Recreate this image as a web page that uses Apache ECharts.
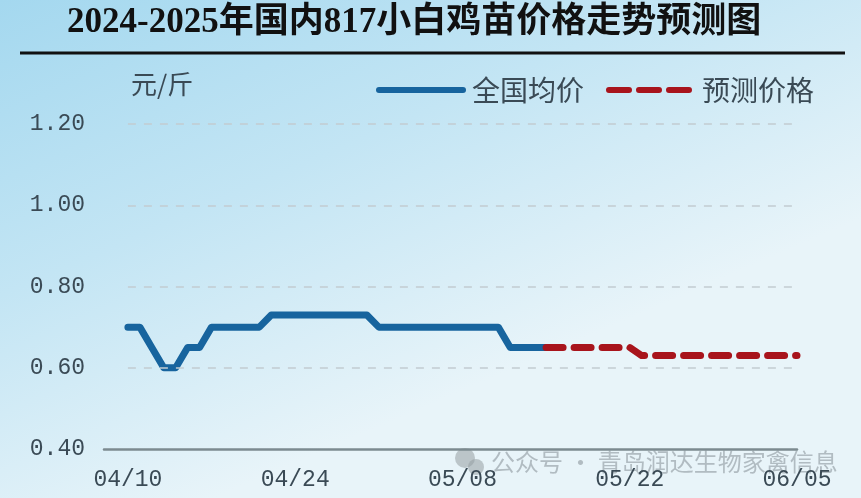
<!DOCTYPE html>
<html>
<head>
<meta charset="utf-8">
<script src="https://cdn.jsdelivr.net/npm/echarts@6/dist/echarts.min.js"></script>
<style>
html, body { margin: 0; padding: 0; }
#main { width: 861px; height: 498px; }
</style>
</head>
<body>
<div id="main"></div>
<script>
var dates = [
    '04/08', '04/09', '04/10', '04/11', '04/12', '04/13', '04/14', '04/15', '04/16', '04/17',
    '04/18', '04/19', '04/20', '04/21', '04/22', '04/23', '04/24', '04/25', '04/26', '04/27',
    '04/28', '04/29', '04/30', '05/01', '05/02', '05/03', '05/04', '05/05', '05/06', '05/07',
    '05/08', '05/09', '05/10', '05/11', '05/12', '05/13', '05/14', '05/15', '05/16', '05/17',
    '05/18', '05/19', '05/20', '05/21', '05/22', '05/23', '05/24', '05/25', '05/26', '05/27',
    '05/28', '05/29', '05/30', '05/31', '06/01', '06/02', '06/03', '06/04', '06/05'
];
// 全国均价 04/10 - 05/15
var nationalAvg = [
    0.70, 0.70, 0.65, 0.60, 0.60, 0.65, 0.65, 0.70, 0.70, 0.70,
    0.70, 0.70, 0.73, 0.73, 0.73, 0.73, 0.73, 0.73, 0.73, 0.73,
    0.73, 0.70, 0.70, 0.70, 0.70, 0.70, 0.70, 0.70, 0.70, 0.70,
    0.70, 0.70, 0.65, 0.65, 0.65, 0.65
];
var nationalStart = '04/10';
// 预测价格 05/15 - 06/05
var forecast = [
    0.65, 0.65, 0.65, 0.65, 0.65, 0.65, 0.65, 0.65, 0.63, 0.63,
    0.63, 0.63, 0.63, 0.63, 0.63, 0.63, 0.63, 0.63, 0.63, 0.63,
    0.63, 0.63
];
var forecastStart = '05/15';
var xTickLabels = ['04/10', '04/24', '05/08', '05/22', '06/05'];
var yTicks = [0.40, 0.60, 0.80, 1.00, 1.20];

window.onload = function () {
    var myChart = echarts.init(document.getElementById('main'));
    var textColor = '#3a4a55';
    var blue = '#17649e';
    var red = '#a8141c';
    var monoFont = '"Liberation Mono", "DejaVu Sans Mono", monospace';
    var cjkFont = '"Noto Sans CJK SC", sans-serif';

    function padSeries(values, start) {
        var offset = dates.indexOf(start);
        return dates.map(function (d, i) {
            var k = i - offset;
            return (k >= 0 && k < values.length) ? values[k] : null;
        });
    }

    // dashed guides only over the data span (04/10 - 06/05)
    var guideLines = yTicks.slice(1).map(function (v) {
        return [{ coord: [nationalStart, v] }, { coord: [dates[dates.length - 1], v] }];
    });

    var option = {
        backgroundColor: new echarts.graphic.LinearGradient(0, 0, 0.25, 1, [
            { offset: 0, color: '#a4d8ef' },
            { offset: 0.5, color: '#c3e5f4' },
            { offset: 1, color: '#e8f4f9' }
        ]),
        animation: false,
        title: [
            {
                text: '2024-2025年国内817小白鸡苗价格走势预测图',
                left: 62,
                top: 0,
                textStyle: {
                    fontFamily: '"Liberation Serif", "Noto Sans CJK SC", serif',
                    fontWeight: 'bold',
                    fontSize: 35,
                    color: '#111'
                }
            },
            {
                text: '元/斤',
                left: 126,
                top: 66,
                textStyle: {
                    fontFamily: cjkFont,
                    fontWeight: 'normal',
                    fontSize: 26,
                    color: textColor
                }
            }
        ],
        legend: {
            data: [
                {
                    name: '全国均价',
                    itemStyle: { opacity: 0 },
                    lineStyle: { color: blue, width: 6, type: 'solid', cap: 'round' }
                },
                {
                    name: '预测价格',
                    itemStyle: { opacity: 0 },
                    lineStyle: { color: red, width: 6, type: [20, 10], cap: 'round' }
                }
            ],
            left: 371,
            top: 71,
            itemWidth: 84,
            itemHeight: 14,
            itemGap: 22,
            selectedMode: false,
            textStyle: {
                fontFamily: cjkFont,
                fontSize: 28,
                color: textColor,
                padding: [0, 0, 0, 4]
            }
        },
        grid: {
            left: 104,
            right: 64,
            top: 124,
            bottom: 49
        },
        xAxis: {
            type: 'category',
            data: dates,
            boundaryGap: false,
            axisLine: { lineStyle: { color: '#7c8a90', width: 2.5 } },
            axisTick: { show: false },
            axisLabel: {
                interval: function (index, value) {
                    return xTickLabels.indexOf(value) >= 0;
                },
                margin: 19,
                fontFamily: monoFont,
                fontSize: 23,
                color: textColor
            },
            splitLine: { show: false }
        },
        yAxis: {
            type: 'value',
            min: 0.4,
            max: 1.2,
            interval: 0.2,
            axisLine: { show: false },
            axisTick: { show: false },
            axisLabel: {
                margin: 19,
                fontFamily: monoFont,
                fontSize: 23,
                color: textColor,
                formatter: function (v) { return v.toFixed(2); }
            },
            splitLine: { show: false }
        },
        graphic: [
            {
                type: 'line',
                shape: { x1: 20, y1: 53, x2: 845, y2: 53 },
                style: { stroke: '#111', lineWidth: 3 }
            },
            {
                type: 'circle',
                shape: { cx: 465, cy: 458, r: 10 },
                style: { fill: 'rgba(150,158,162,0.55)' }
            },
            {
                type: 'circle',
                shape: { cx: 476, cy: 467, r: 8 },
                style: { fill: 'rgba(150,158,162,0.55)' }
            },
            {
                type: 'text',
                left: 491,
                top: 450,
                style: {
                    text: '公众号 · 青岛润达生物家禽信息',
                    font: '24px "Noto Sans CJK SC", sans-serif',
                    fill: 'rgba(140,150,156,0.6)'
                }
            }
        ],
        series: [
            {
                name: 'guides',
                type: 'line',
                data: [],
                silent: true,
                z: 1,
                markLine: {
                    silent: true,
                    symbol: ['none', 'none'],
                    label: { show: false },
                    lineStyle: { color: '#c2ccd1', type: [8, 8], width: 1.5 },
                    data: guideLines
                }
            },
            {
                name: '全国均价',
                type: 'line',
                data: padSeries(nationalAvg, nationalStart),
                showSymbol: false,
                symbol: 'none',
                z: 3,
                itemStyle: { color: blue },
                lineStyle: { color: blue, width: 7, join: 'round', cap: 'round' }
            },
            {
                name: '预测价格',
                type: 'line',
                data: padSeries(forecast, forecastStart),
                showSymbol: false,
                symbol: 'none',
                z: 4,
                itemStyle: { color: red },
                lineStyle: { color: red, width: 7, type: [17, 11], cap: 'round', join: 'round' }
            }
        ]
    };

    myChart.setOption(option);
};
</script>
</body>
</html>
